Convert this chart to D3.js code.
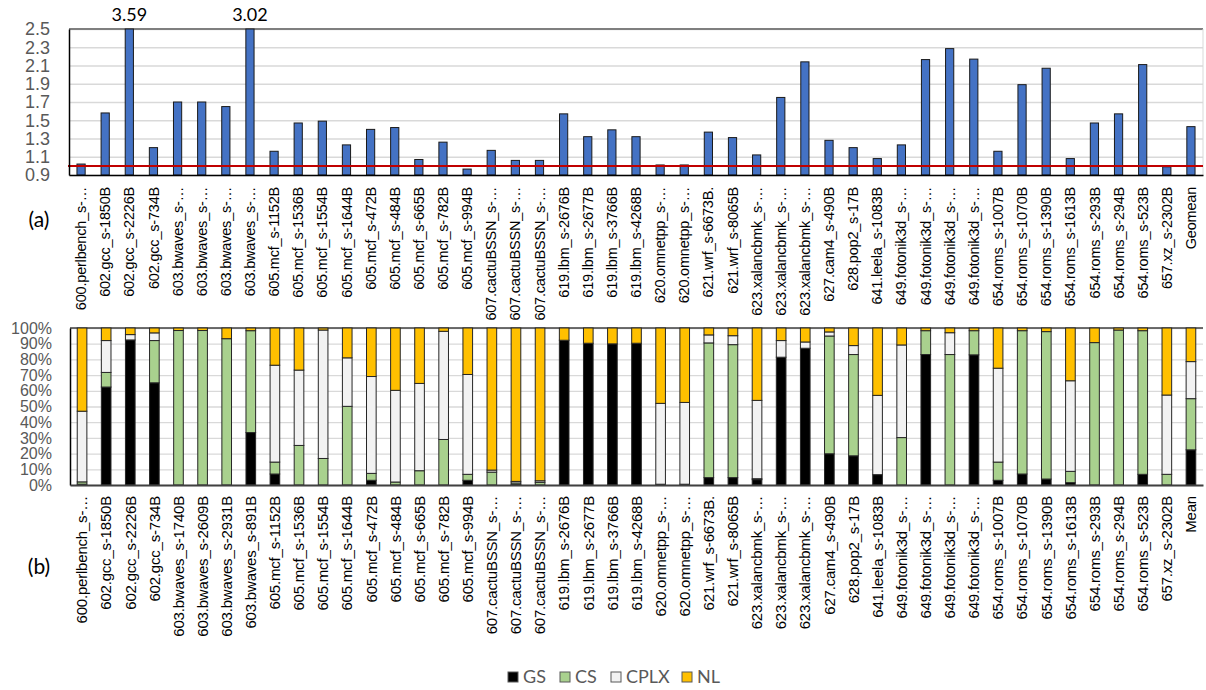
<!DOCTYPE html>
<html lang="en">
    <head>
        <meta charset="utf-8">
        <title>Speedup and breakdown per benchmark</title>
        <script src="https://d3js.org/d3.v7.min.js"></script>
        <style type="text/css">
            body{
                margin: 0;
                background: white;
            }
            svg{
                display: block;
                font-family: Lato, "Open Sans", sans-serif;
            }
            .ylab text{
                font-size: 18px;
                fill: #595959;
            }
            #ybot text{
                font-size: 16px;
            }
            .xlab text{
                font-size: 15px;
                letter-spacing: -0.2px;
                fill: #000;
            }
            #xtop text{
                font-size: 14.5px;
            }
            .grid line{
                stroke: #d9d9d9;
                stroke-width: 1.3px;
            }
        </style>
    </head>
    <body>
        <svg width="1206" height="690"></svg>
        <script type="text/javascript">

            // tick labels (top chart shortens some names)
            const topLabels = ["600.perlbench_s-…","602.gcc_s-1850B","602.gcc_s-2226B","602.gcc_s-734B",
                "603.bwaves_s-…","603.bwaves_s-…","603.bwaves_s-…","603.bwaves_s-…",
                "605.mcf_s-1152B","605.mcf_s-1536B","605.mcf_s-1554B","605.mcf_s-1644B","605.mcf_s-472B",
                "605.mcf_s-484B","605.mcf_s-665B","605.mcf_s-782B","605.mcf_s-994B",
                "607.cactuBSSN_s-…","607.cactuBSSN_s-…","607.cactuBSSN_s-…",
                "619.lbm_s-2676B","619.lbm_s-2677B","619.lbm_s-3766B","619.lbm_s-4268B",
                "620.omnetpp_s-…","620.omnetpp_s-…","621.wrf_s-6673B.","621.wrf_s-8065B",
                "623.xalancbmk_s-…","623.xalancbmk_s-…","623.xalancbmk_s-…",
                "627.cam4_s-490B","628.pop2_s-17B","641.leela_s-1083B",
                "649.fotonik3d_s-…","649.fotonik3d_s-…","649.fotonik3d_s-…","649.fotonik3d_s-…",
                "654.roms_s-1007B","654.roms_s-1070B","654.roms_s-1390B","654.roms_s-1613B",
                "654.roms_s-293B","654.roms_s-294B","654.roms_s-523B","657.xz_s-2302B","Geomean"];

            const bottomLabels = topLabels.slice(0, 46).concat(["Mean"]);
            bottomLabels[4] = "603.bwaves_s-1740B";
            bottomLabels[5] = "603.bwaves_s-2609B";
            bottomLabels[6] = "603.bwaves_s-2931B";
            bottomLabels[7] = "603.bwaves_s-891B";

            // (a) speedup values
            const speedup = [1.02,1.58,3.59,1.20,1.70,1.70,1.65,3.02,1.16,1.47,1.49,1.23,1.40,1.42,1.07,1.26,0.965,
                1.17,1.06,1.06,1.57,1.32,1.395,1.32,1.01,1.01,1.37,1.31,1.12,1.75,2.14,1.28,1.20,1.08,
                1.23,2.165,2.285,2.17,1.16,1.89,2.07,1.08,1.47,1.57,2.11,0.99,1.43];

            const yTicksTop = [0.9,1.1,1.3,1.5,1.7,1.9,2.1,2.3,2.5];
            const baseline = 1.0;

            // (b) breakdown in percent
            const seriesNames = ["GS","CS","CPLX","NL"];
            const seriesColors = ["#000000","#a9d18e","#f2f2f2","#ffc000"];
            const GS   = [0.5,62.4,92.4,65.1,0,0,0,33.4,7,0,0,0,3,0,0,0,3,0,0.3,0,92.2,90.3,89.9,90.3,0.5,0.5,4.7,4.7,3.4,81.4,87.1,
                19.9,18.6,6.6,0,83.1,0,82.9,3,7,3.8,1.5,0,0,6.8,0,22.4];
            const CS   = [1.5,9.3,0,26.9,98.4,98.4,93.2,64.9,7.6,25.2,16.9,50.1,4.4,1.9,9.1,29,3.8,8.2,1,1.7,0,0,0,0,0,0,85.8,84.7,0.6,0,0,
                75,64.5,0,30.2,15.2,83.1,15.4,11.6,91.3,93.9,7.2,90.7,98.7,91.5,6.8,32.6];
            const CPLX = [45,20.3,3.4,4.9,0,0,0,0,61.7,48,81.8,30.9,61.7,58.4,55.6,68.9,63.6,1.3,1,1,0,0,0,0,51.5,52.1,5.1,5.7,49.9,10.6,4,
                2.6,5.7,50.5,59,0,13.9,0,59.8,0,0,57.7,0,0,0,50.5,23.6];
            const NL   = GS.map((d, i) => 100 - d - CS[i] - CPLX[i]);
            const yTicksBottom = [0,10,20,30,40,50,60,70,80,90,100];

            const svg = d3.select("svg");
            const left = 69, right = 1203;

            // ---------- (a) ----------
            const topY0 = 175, topY1 = 29;
            const xTop = d3.scaleBand().domain(d3.range(topLabels.length)).range([left, right]);
            const yTop = d3.scaleLinear().domain([0.9, 2.5]).range([topY0, topY1]);
            const barW = xTop.step() * 0.34;

            svg.append("g")
                .attr("class", "grid")
                .attr("transform", "translate(" + left + ",0)")
                .call(d3.axisLeft(yTop).tickValues(yTicksTop).tickSize(-(right - left)).tickFormat(""))
                .call(g => g.select(".domain").remove());

            svg.append("line")
                .attr("x1", left).attr("x2", right)
                .attr("y1", topY1).attr("y2", topY1)
                .attr("stroke", "#7f7f7f").attr("stroke-width", 2);
            svg.append("line")
                .attr("x1", right).attr("x2", right)
                .attr("y1", topY1).attr("y2", topY0)
                .attr("stroke", "#d9d9d9").attr("stroke-width", 1);

            svg.selectAll(".sbar")
                .data(speedup)
                .join("rect")
                .attr("class", "sbar")
                .attr("x", (d, i) => xTop(i) + (xTop.step() - barW) / 2)
                .attr("y", d => yTop(Math.min(d, 2.5)))
                .attr("width", barW)
                .attr("height", d => topY0 - yTop(Math.min(d, 2.5)))
                .attr("fill", "#4472c4")
                .attr("stroke", "#1a1a1a")
                .attr("stroke-width", 1);

            svg.selectAll(".over")
                .data(speedup.map((d, i) => ({v: d, i: i})).filter(d => d.v > 2.5))
                .join("text")
                .attr("class", "over")
                .attr("x", d => xTop(d.i) + xTop.step() / 2)
                .attr("y", topY1 - 8)
                .attr("text-anchor", "middle")
                .attr("font-size", "18px")
                .attr("fill", "#000")
                .text(d => d.v.toFixed(2));

            svg.append("line")
                .attr("x1", left - 1).attr("x2", right)
                .attr("y1", yTop(baseline)).attr("y2", yTop(baseline))
                .attr("stroke", "#c00000").attr("stroke-width", 2);

            svg.append("g")
                .attr("class", "ylab")
                .attr("transform", "translate(" + left + ",0)")
                .call(d3.axisLeft(yTop).tickValues(yTicksTop).tickFormat(d3.format(".1f")).tickSize(0).tickPadding(19))
                .call(g => g.select(".domain").attr("stroke", "#000").attr("stroke-width", 1.5));

            svg.append("g")
                .attr("class", "xlab")
                .attr("id", "xtop")
                .attr("transform", "translate(0," + topY0 + ")")
                .call(d3.axisBottom(xTop).tickFormat(i => topLabels[i]).tickSize(0))
                .call(g => g.select(".domain").attr("stroke", "#000").attr("stroke-width", 1.5))
                .selectAll("text")
                .attr("transform", "rotate(-90)")
                .attr("text-anchor", "end")
                .attr("x", -12)
                .attr("y", 0)
                .attr("dy", "0.35em");

            svg.append("text")
                .attr("x", 39).attr("y", 227)
                .attr("text-anchor", "middle")
                .attr("font-size", "21px")
                .text("(a)");

            // ---------- (b) ----------
            const botY0 = 485, botY1 = 328;
            const xBot = d3.scaleBand().domain(d3.range(bottomLabels.length)).range([left + 1, right]);
            const yBot = d3.scaleLinear().domain([0, 100]).range([botY0, botY1]);
            const barW2 = xBot.step() * 0.4;

            svg.append("g")
                .attr("class", "grid")
                .attr("transform", "translate(" + (left + 1) + ",0)")
                .call(d3.axisLeft(yBot).tickValues(yTicksBottom).tickSize(-(right - left - 1)).tickFormat(""))
                .call(g => g.select(".domain").remove());

            svg.append("line")
                .attr("x1", left + 1).attr("x2", right)
                .attr("y1", botY1).attr("y2", botY1)
                .attr("stroke", "#404040").attr("stroke-width", 1.5);

            const table = bottomLabels.map((name, i) => ({i: i, GS: GS[i], CS: CS[i], CPLX: CPLX[i], NL: NL[i]}));
            const stacked = d3.stack().keys(seriesNames)(table);

            svg.append("g")
                .selectAll("g")
                .data(stacked)
                .join("g")
                .attr("fill", (d, k) => seriesColors[k])
                .selectAll("rect")
                .data(d => d.filter(s => s[1] - s[0] > 0))
                .join("rect")
                .attr("x", s => xBot(s.data.i) + (xBot.step() - barW2) / 2)
                .attr("y", s => yBot(s[1]))
                .attr("width", barW2)
                .attr("height", s => yBot(s[0]) - yBot(s[1]))
                .attr("stroke", "#262626")
                .attr("stroke-width", 1);

            svg.append("g")
                .attr("class", "ylab")
                .attr("id", "ybot")
                .attr("transform", "translate(" + (left + 1) + ",0)")
                .call(d3.axisLeft(yBot).tickValues(yTicksBottom).tickFormat(d => d + "%").tickSize(0).tickPadding(18))
                .call(g => g.select(".domain").attr("stroke", "#000").attr("stroke-width", 1.5));

            svg.append("g")
                .attr("class", "xlab")
                .attr("transform", "translate(0," + botY0 + ")")
                .call(d3.axisBottom(xBot).tickFormat(i => bottomLabels[i]).tickSize(0))
                .call(g => g.select(".domain").attr("stroke", "#404040").attr("stroke-width", 2))
                .selectAll("text")
                .attr("transform", "rotate(-90)")
                .attr("text-anchor", "end")
                .attr("x", -11)
                .attr("y", 0)
                .attr("dy", "0.35em");

            svg.append("text")
                .attr("x", 39).attr("y", 574)
                .attr("text-anchor", "middle")
                .attr("font-size", "21px")
                .text("(b)");

            // legend
            const legendX = [508, 560, 611, 682];
            const legend = svg.append("g").selectAll("g")
                .data(seriesNames)
                .join("g")
                .attr("transform", (d, k) => "translate(" + legendX[k] + ",672)");
            legend.append("rect")
                .attr("width", 10).attr("height", 10)
                .attr("fill", (d, k) => seriesColors[k])
                .attr("stroke", "#595959");
            legend.append("text")
                .attr("x", 15).attr("y", 5)
                .attr("dy", "0.35em")
                .attr("font-size", "18px")
                .attr("fill", "#595959")
                .text(d => d);

        </script>
    </body>
</html>
